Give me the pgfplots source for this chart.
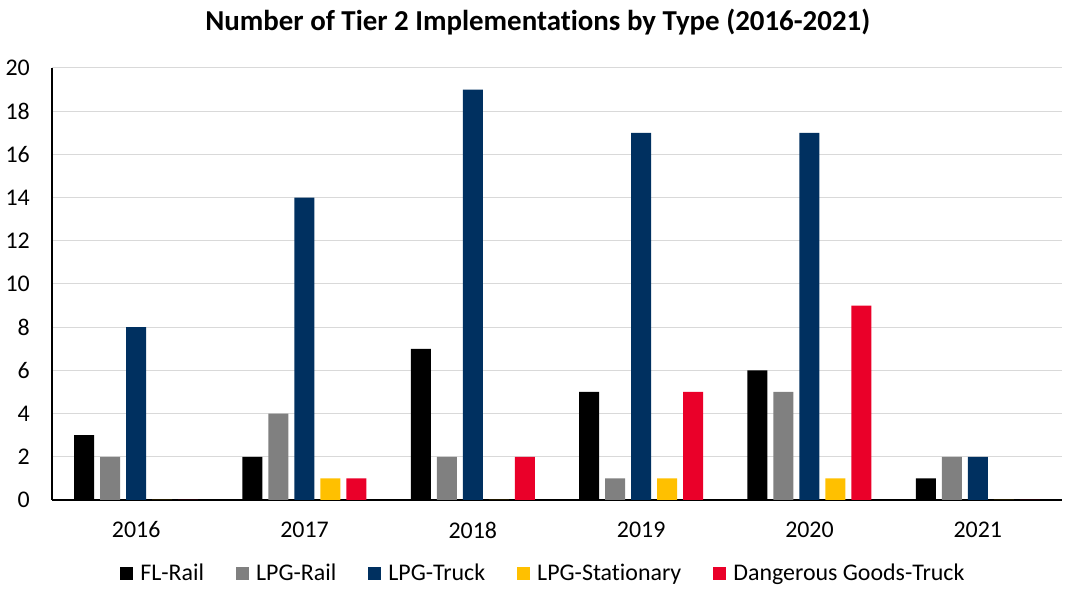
\documentclass[border=0pt]{standalone}
\usepackage{pgfplots}
\pgfplotsset{compat=1.18}
\usepackage{fontspec}
\setmainfont[Ligatures=NoCommon]{Carlito}
\definecolor{flrail}{RGB}{0,0,0}
\definecolor{lpgrail}{RGB}{128,128,128}
\definecolor{lpgtruck}{RGB}{0,48,96}
\definecolor{lpgstat}{RGB}{255,192,0}
\definecolor{dgtruck}{RGB}{234,0,41}
\definecolor{gridgray}{RGB}{217,217,217}
\begin{document}
\begin{tikzpicture}
\useasboundingbox (0,0) rectangle (1080bp,597bp);
\begin{axis}[
  at={(52bp,97bp)}, anchor=south west,
  scale only axis, width=1010bp, height=432bp,
  font=\fontsize{24}{28}\selectfont,
  /pgf/number format/assume math mode=true,
  xmin=-0.5, xmax=5.5, ymin=0, ymax=20,
  ytick={0,2,...,20},
  xtick={0,...,5},
  xticklabels={2016,2017,2018,2019,2020,2021},
  axis x line*=bottom, axis y line*=left,
  axis line style={black, line width=1.2bp},
  major tick length=0pt,
  ymajorgrids, grid style={gridgray, line width=1bp},
  xticklabel style={anchor=center, yshift=-30bp},
  yticklabel style={anchor=east, inner sep=0pt, xshift=-22bp},
  title={\bfseries Number of Tier 2 Implementations by Type (2016-2021)},
  title style={at={(axis description cs:0.481,1.0926)}, anchor=center,
    font=\fontsize{29}{34}\selectfont},
  ybar, bar width=20bp,
  legend columns=5,
  legend style={at={(axis description cs:0.4856,-0.170)}, anchor=center,
    draw=none, fill=none, font=\fontsize{24}{28}\selectfont,
    nodes={inner sep=0pt},
    /tikz/every odd column/.append style={column sep=7bp},
    /tikz/every even column/.append style={column sep=32bp}},
  legend image code/.code={\fill[#1] (0bp,-6.5bp) rectangle (13bp,6.5bp);},
]
\addplot[fill=flrail, draw=none, bar shift=-52bp] coordinates {(0,3) (1,2) (2,7) (3,5) (4,6) (5,1)};
\addplot[fill=lpgrail, draw=none, bar shift=-26bp] coordinates {(0,2) (1,4) (2,2) (3,1) (4,5) (5,2)};
\addplot[fill=lpgtruck, draw=none, bar shift=0bp] coordinates {(0,8) (1,14) (2,19) (3,17) (4,17) (5,2)};
\addplot[fill=lpgstat, draw=none, bar shift=26bp] coordinates {(0,0) (1,1) (2,0) (3,1) (4,1) (5,0)};
\addplot[fill=dgtruck, draw=none, bar shift=52bp] coordinates {(0,0) (1,1) (2,2) (3,5) (4,9) (5,0)};
\legend{FL-Rail, LPG-Rail, LPG-Truck, LPG-Stationary, Dangerous Goods-Truck}
\end{axis}
\end{tikzpicture}
\end{document}
